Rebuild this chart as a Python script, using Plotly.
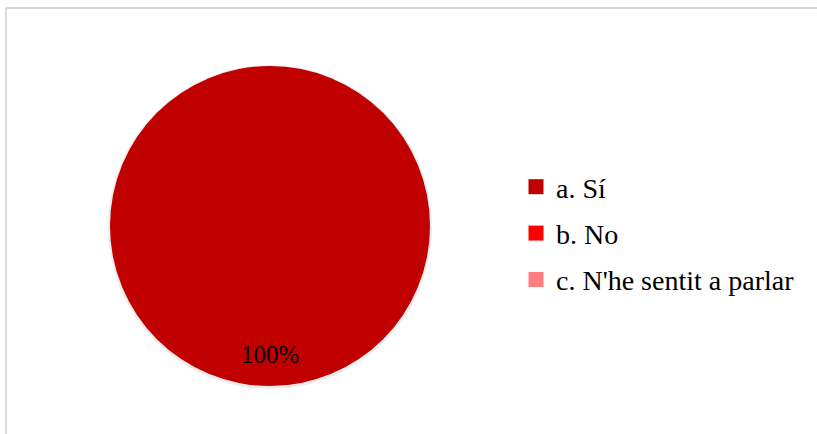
import plotly.graph_objects as go

labels = ["a. Sí", "b. No", "c. N'he sentit a parlar"]
values = [100, 0, 0]
colors = ["#C00000", "#FF0000", "#FF7C80"]
pct_text = "100%"

W, H = 817, 434
FONT = "Liberation Serif, Times New Roman, serif"

# pie domain in pixels
px0, px1, py_top, py_bot = 110, 430, 66, 386
dom_x = [px0 / W, px1 / W]
dom_y = [1 - py_bot / H, 1 - py_top / H]

fig = go.Figure()

# soft shadow
fig.add_trace(go.Pie(
    labels=labels, values=values,
    domain=dict(x=[(px0 - 2) / W, (px1 + 2) / W], y=[1 - (py_bot + 3) / H, 1 - (py_top - 1) / H]),
    marker=dict(colors=["rgba(0,0,0,0.07)"] * 3, line=dict(width=0)),
    textinfo="none", hoverinfo="skip", showlegend=False, sort=False,
))
fig.add_trace(go.Pie(
    labels=labels, values=values,
    domain=dict(x=dom_x, y=dom_y),
    marker=dict(colors=colors, line=dict(width=0)),
    textinfo="none", showlegend=False, sort=False,
))

# legend entries
for lab, col in zip(labels, colors):
    fig.add_trace(go.Scatter(
        x=[None], y=[None], mode="markers", name=lab,
        marker=dict(symbol="square", size=15, color=col),
        legendgroup=lab, showlegend=True,
    ))

cx = (dom_x[0] + dom_x[1]) / 2
cy = (dom_y[0] + dom_y[1]) / 2
r_frac = (dom_y[1] - dom_y[0]) / 2

fig.add_annotation(
    x=cx, y=cy - 0.8 * r_frac, xref="paper", yref="paper",
    xanchor="center", yanchor="middle",
    text=pct_text, showarrow=False,
    font=dict(family=FONT, size=25, color="black"),
)

# frame lines
fig.add_shape(type="line", xref="paper", yref="paper",
              x0=6 / W, x1=1.02, y0=1 - 8 / H, y1=1 - 8 / H,
              line=dict(color="#D9D9D9", width=2))
fig.add_shape(type="line", xref="paper", yref="paper",
              x0=6 / W, x1=6 / W, y0=1 - 8 / H, y1=-0.05,
              line=dict(color="#D9D9D9", width=2))

fig.update_layout(
    width=W, height=H,
    margin=dict(l=0, r=0, t=0, b=0),
    paper_bgcolor="white", plot_bgcolor="white",
    font=dict(family=FONT, color="black"),
    xaxis=dict(visible=False), yaxis=dict(visible=False),
    showlegend=True,
    legend=dict(
        x=516 / W, y=1 - 162 / H, xanchor="left", yanchor="top",
        font=dict(family=FONT, size=28, color="black"),
        tracegroupgap=7, bgcolor="rgba(0,0,0,0)",
    ),
)

fig.write_html("out.html", config={"displayModeBar": False},
               post_script="document.body.style.margin='0';document.body.style.padding='0';")
